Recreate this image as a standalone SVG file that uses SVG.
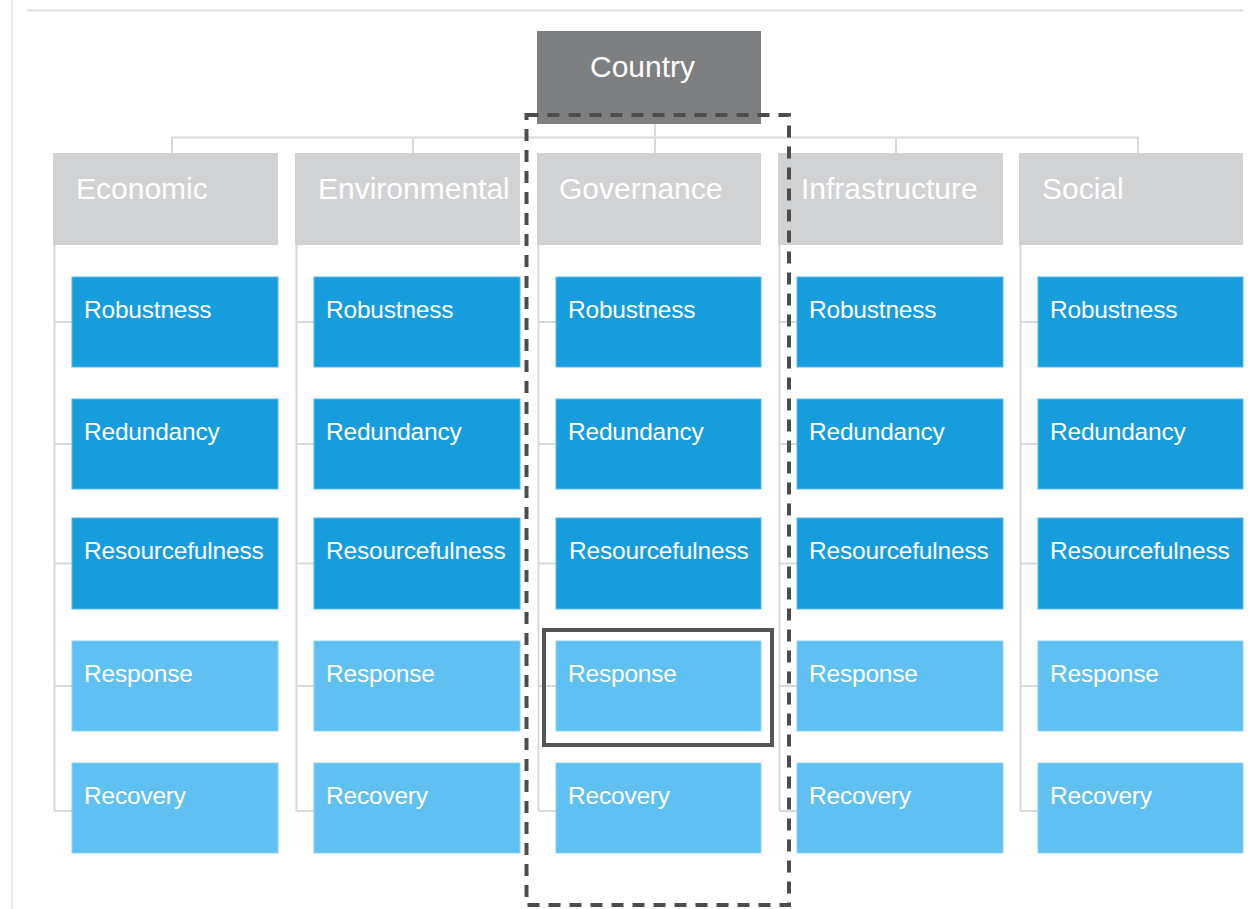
<svg xmlns="http://www.w3.org/2000/svg" width="1248" height="909" viewBox="0 0 1248 909">
<style>
.hdr{fill:#d1d2d4}
.dk{fill:#179ddd;stroke:#5ab6ea;stroke-width:1}
.lt{fill:#5fc0f2;stroke:#8dd2f5;stroke-width:1}
.ht{font-family:"Liberation Sans",Arial,sans-serif;font-size:30px;fill:#ffffff}
.ct{font-family:"Liberation Sans",Arial,sans-serif;font-size:24.5px;fill:#ffffff;letter-spacing:-0.2px}
.conn{stroke:#d8d9db;stroke-width:2;fill:none}
</style>
<rect x="0" y="0" width="1248" height="909" fill="#ffffff"/>
<g id="frame">
<line x1="12" y1="0" x2="12" y2="909" stroke="#e3e3e3" stroke-width="1.5"/>
<line x1="27" y1="10.5" x2="1243" y2="10.5" stroke="#e0e0e0" stroke-width="2"/>
</g>
<g id="connectors" class="conn">
<path d="M655 124 V137.5 M172 153 V137.5 H1138 V153 M413 137.5 V153 M655 137.5 V153 M896 137.5 V153"/>
<path d="M54.5 245 V811 M54.5 322 H72 M54.5 444 H72 M54.5 563.5 H72 M54.5 686 H72 M54.5 811 H72"/>
<path d="M296.5 245 V811 M296.5 322 H314 M296.5 444 H314 M296.5 563.5 H314 M296.5 686 H314 M296.5 811 H314"/>
<path d="M538.5 245 V811 M538.5 322 H556 M538.5 444 H556 M538.5 563.5 H556 M538.5 686 H556 M538.5 811 H556"/>
<path d="M779.5 245 V811 M779.5 322 H797 M779.5 444 H797 M779.5 563.5 H797 M779.5 686 H797 M779.5 811 H797"/>
<path d="M1020.5 245 V811 M1020.5 322 H1038 M1020.5 444 H1038 M1020.5 563.5 H1038 M1020.5 686 H1038 M1020.5 811 H1038"/>
</g>
<g id="country">
<rect x="537" y="31" width="224" height="93" fill="#7e7f81"/>
<text x="590" y="77" class="ht">Country</text>
</g>
<g id="economic">
<rect class="hdr" x="53" y="153" width="225" height="92"/>
<text class="ht" x="76" y="199">Economic</text>
<rect class="dk" x="72" y="277" width="206" height="90"/><text class="ct" x="84" y="318">Robustness</text>
<rect class="dk" x="72" y="399" width="206" height="90"/><text class="ct" x="84" y="440">Redundancy</text>
<rect class="dk" x="72" y="518" width="206" height="91"/><text class="ct" x="84" y="559">Resourcefulness</text>
<rect class="lt" x="72" y="641" width="206" height="90"/><text class="ct" x="84" y="682">Response</text>
<rect class="lt" x="72" y="763" width="206" height="90"/><text class="ct" x="84" y="804">Recovery</text>
</g>
<g id="environmental">
<rect class="hdr" x="295" y="153" width="225" height="92"/>
<text class="ht" x="318" y="199">Environmental</text>
<rect class="dk" x="314" y="277" width="206" height="90"/><text class="ct" x="326" y="318">Robustness</text>
<rect class="dk" x="314" y="399" width="206" height="90"/><text class="ct" x="326" y="440">Redundancy</text>
<rect class="dk" x="314" y="518" width="206" height="91"/><text class="ct" x="326" y="559">Resourcefulness</text>
<rect class="lt" x="314" y="641" width="206" height="90"/><text class="ct" x="326" y="682">Response</text>
<rect class="lt" x="314" y="763" width="206" height="90"/><text class="ct" x="326" y="804">Recovery</text>
</g>
<g id="governance">
<rect class="hdr" x="537" y="153" width="224" height="92"/>
<text class="ht" x="559" y="199">Governance</text>
<rect class="dk" x="556" y="277" width="205" height="90"/><text class="ct" x="568" y="318">Robustness</text>
<rect class="dk" x="556" y="399" width="205" height="90"/><text class="ct" x="568" y="440">Redundancy</text>
<rect class="dk" x="556" y="518" width="205" height="91"/><text class="ct" x="569" y="559">Resourcefulness</text>
<rect class="lt" x="556" y="641" width="205" height="90"/><text class="ct" x="568" y="682">Response</text>
<rect class="lt" x="556" y="763" width="205" height="90"/><text class="ct" x="568" y="804">Recovery</text>
</g>
<g id="infrastructure">
<rect class="hdr" x="778" y="153" width="225" height="92"/>
<text class="ht" x="801" y="199">Infrastructure</text>
<rect class="dk" x="797" y="277" width="206" height="90"/><text class="ct" x="809" y="318">Robustness</text>
<rect class="dk" x="797" y="399" width="206" height="90"/><text class="ct" x="809" y="440">Redundancy</text>
<rect class="dk" x="797" y="518" width="206" height="91"/><text class="ct" x="809" y="559">Resourcefulness</text>
<rect class="lt" x="797" y="641" width="206" height="90"/><text class="ct" x="809" y="682">Response</text>
<rect class="lt" x="797" y="763" width="206" height="90"/><text class="ct" x="809" y="804">Recovery</text>
</g>
<g id="social">
<rect class="hdr" x="1019" y="153" width="224" height="92"/>
<text class="ht" x="1042" y="199">Social</text>
<rect class="dk" x="1038" y="277" width="205" height="90"/><text class="ct" x="1050" y="318">Robustness</text>
<rect class="dk" x="1038" y="399" width="205" height="90"/><text class="ct" x="1050" y="440">Redundancy</text>
<rect class="dk" x="1038" y="518" width="205" height="91"/><text class="ct" x="1050" y="559">Resourcefulness</text>
<rect class="lt" x="1038" y="641" width="205" height="90"/><text class="ct" x="1050" y="682">Response</text>
<rect class="lt" x="1038" y="763" width="205" height="90"/><text class="ct" x="1050" y="804">Recovery</text>
</g>
<g id="highlight">
<rect x="544" y="630" width="228" height="115" fill="none" stroke="#555555" stroke-width="4"/>
</g>
<g id="dashed-focus">
<rect x="526.5" y="115" width="262.5" height="790" fill="none" stroke="#4d4d4d" stroke-width="4" stroke-dasharray="12 9"/>
</g>
</svg>
